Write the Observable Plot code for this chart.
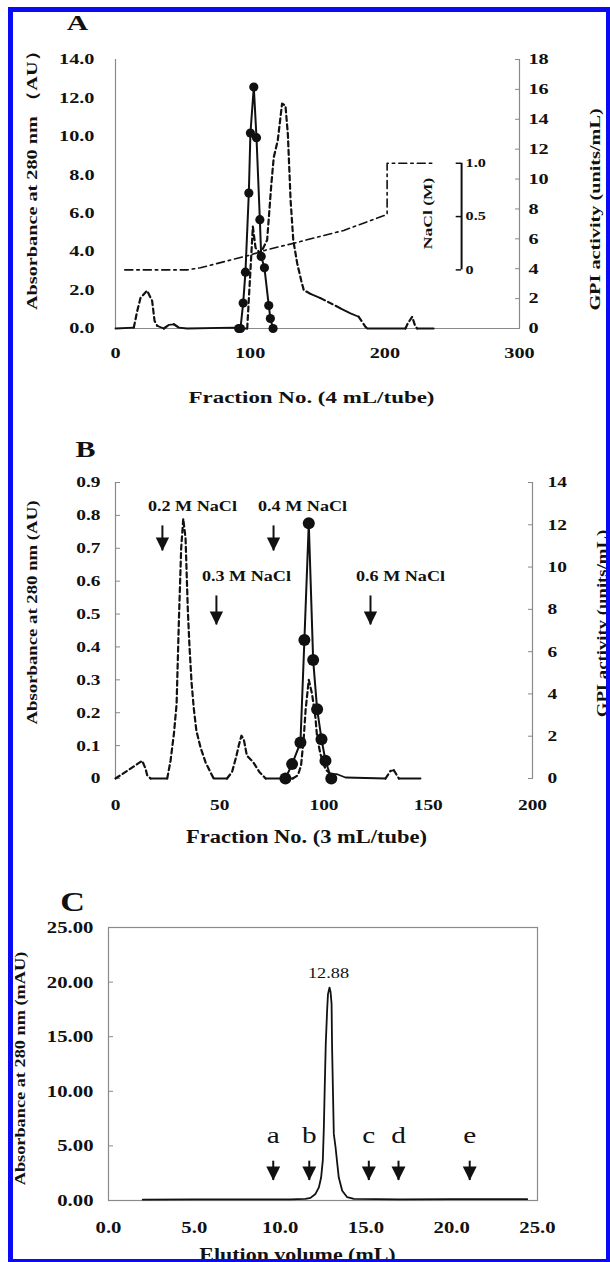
<!DOCTYPE html>
<html><head><meta charset="utf-8">
<script src="https://cdn.jsdelivr.net/npm/d3@7"></script>
<script src="https://cdn.jsdelivr.net/npm/@observablehq/plot@0.6"></script>
<style>
html,body{margin:0;padding:0;background:#fff;}
body{width:610px;height:1262px;position:relative;overflow:hidden;}
.panel{position:absolute;left:0;}
#border{position:absolute;left:8px;top:7px;width:593px;height:1247px;border-style:solid;border-color:#0a0af5;border-width:5px 4px 3px 5px;pointer-events:none;z-index:5;}
</style></head>
<body>
<div id="A" class="panel" style="top:0px"></div>
<div id="B" class="panel" style="top:420px"></div>
<div id="C" class="panel" style="top:850px"></div>
<div id="border"></div>
<script>
// ---------------- Panel A data ----------------
const fracA = [0, 13.6, 16.1, 18.6, 23.5, 27.2, 29, 31, 35.9, 39.6, 43.3, 47, 53.2, 87.8, 92, 97.8, 102, 104, 107.6, 112.6, 115.6, 117.5, 120.5, 123.7, 126.2, 128, 130, 132, 134.9, 137.9, 139.8, 144.8, 152.2, 159.6, 167, 174.5, 180.6, 185.6, 186.9, 215.3, 217, 220.3, 222.7, 224, 236.3];
const absA  = [0, 0.05, 0.9, 1.6, 1.97, 1.44, 0.4, 0.14, 0, 0.19, 0.22, 0.05, 0, 0.05, 0, 0, 5.3, 4.2, 3.9, 4.6, 7.4, 8.9, 9.8, 11.7, 11.6, 10.1, 6.7, 4.6, 3.4, 2.5, 2.0, 1.8, 1.58, 1.32, 1.05, 0.79, 0.61, 0.09, 0, 0, 0.26, 0.61, 0.1, 0, 0];
const gpiFracA = [91.5, 92.8, 94.8, 96.5, 99, 100.2, 102.7, 104.7, 107.2, 108.2, 110.6, 113.8, 115, 117];
const gpiA     = [0, 0, 1.70, 3.77, 9.06, 13.08, 16.16, 12.77, 7.28, 4.82, 4.06, 1.54, 0.67, 0];
const naclFracA = [6.9, 53.2, 63.1, 87.8, 100.2, 112.6, 132.4, 152.2, 169.5, 201.7, 201.7, 236.3];
const naclA     = [0, 0, 0.02, 0.10, 0.14, 0.19, 0.25, 0.315, 0.37, 0.52, 1.0, 1.0];
const naclTicks = [0, 0.5, 1.0];
const xTicksA = [0, 100, 200, 300];
const yTicksA = [0, 2, 4, 6, 8, 10, 12, 14];
const y2TicksA = [0, 2, 4, 6, 8, 10, 12, 14, 16, 18];

// ---------------- Panel B data ----------------
const fracB = [0, 2.4, 7.2, 12.8, 14.4, 15.2, 16.8, 24.8, 26.4, 28, 29.3, 30.4, 31.5, 32.5, 33.6, 34.7, 35.5, 36.5, 37.6, 38.8, 40.8, 43.2, 45.6, 47.1, 53.5, 55.9, 58, 59.1, 60.4, 61.5, 63, 66, 69, 72, 85, 87.5, 89, 90.3, 91.2, 92.7, 94.3, 95.9, 96.7, 98.3, 100.7, 103.1, 106.3, 110.3, 129.5, 131.9, 133.5, 135.9, 146.3];
const absB  = [0, 0.01, 0.03, 0.054, 0.03, 0.01, 0, 0, 0.054, 0.135, 0.226, 0.48, 0.70, 0.79, 0.73, 0.51, 0.40, 0.29, 0.21, 0.145, 0.094, 0.049, 0.018, 0, 0, 0.02, 0.069, 0.10, 0.13, 0.12, 0.07, 0.05, 0.02, 0, 0, 0.01, 0.04, 0.125, 0.21, 0.30, 0.256, 0.185, 0.125, 0.074, 0.028, 0.013, 0.013, 0.003, 0, 0.023, 0.025, 0, 0];
const gpiFracB = [81.5, 84.7, 88.7, 90.6, 92.7, 94.8, 96.7, 98.8, 100.7, 103.5];
const gpiB     = [0, 0.68, 1.70, 6.55, 12.07, 5.6, 3.28, 1.86, 0.84, 0];
const xTicksB = [0, 50, 100, 150, 200];
const yTicksB = [0, 0.1, 0.2, 0.3, 0.4, 0.5, 0.6, 0.7, 0.8, 0.9];
const y2TicksB = [0, 2, 4, 6, 8, 10, 12, 14];
const saltLabels = ["0.2 M NaCl", "0.3 M NaCl", "0.4 M NaCl", "0.6 M NaCl"];
const saltLabelX = [36.9, 62.8, 89.7, 136.7];
const saltLabelY = [0.829, 0.616, 0.829, 0.616];
const saltArrowX = [22.5, 48.4, 75.8, 122.3];
const saltArrowTop = [0.768, 0.555, 0.768, 0.555];
const saltArrowTip = [0.692, 0.467, 0.692, 0.467];

// ---------------- Panel C data ----------------
const volC = [2.0, 5, 8, 10.6, 11.48, 11.77, 12.06, 12.26, 12.39, 12.49, 12.55, 12.6, 12.66, 12.74, 12.79, 12.88, 12.94, 13.0, 13.03, 13.09, 13.13, 13.23, 13.33, 13.42, 13.62, 13.91, 14.3, 17, 20, 24.4];
const absC = [0.08, 0.1, 0.1, 0.1, 0.15, 0.24, 0.6, 1.2, 2.1, 3.7, 6.7, 10.3, 14.3, 17.4, 18.9, 19.5, 19.1, 18.0, 14.0, 9.2, 6.1, 4.9, 3.4, 2.1, 0.9, 0.3, 0.15, 0.1, 0.12, 0.12];
const ticksC = [0, 5, 10, 15, 20, 25];
const stdLabels = ["a", "b", "c", "d", "e"];
const stdX = [9.6, 11.7, 15.17, 16.9, 21.05];
const peakLabel = "12.88";
const peakLabelX = 12.82, peakLabelY = 20.8;

// ---------------- helpers ----------------
const FONT = '"Liberation Serif","Times New Roman",Times,serif';
const INK = "#111";
const AXIS = "#8a8a8a";

function splitRuns(xs, ys, xspan, yspan, W, H, thr = 0.5) {
  const steep = [], flat = [];
  let run = 0, prev = null;
  for (let i = 0; i < xs.length - 1; i++) {
    const dxp = Math.abs(xs[i + 1] - xs[i]) / xspan * W;
    const dyp = Math.abs(ys[i + 1] - ys[i]) / yspan * H;
    const s = dyp > thr * dxp;
    if (s !== prev) run++;
    prev = s;
    (s ? steep : flat).push({x: xs[i], y: ys[i], run}, {x: xs[i + 1], y: ys[i + 1], run});
  }
  return {steep, flat};
}
const headSymbol = {draw(ctx, size) { const s = Math.sqrt(size) * 0.75; ctx.moveTo(-s / 2, -s); ctx.lineTo(s / 2, -s); ctx.lineTo(0, 0); ctx.closePath(); }};
function arrowMarks(xs, tops, tips, r) {
  const d = xs.map((x, i) => ({x, top: tops[i], tip: tips[i]}));
  return [
    Plot.ruleX(d, {x: "x", y1: "top", y2: "tip", stroke: INK, strokeWidth: 2}),
    Plot.dot(d, {x: "x", y: "tip", symbol: headSymbol, r, fill: INK, stroke: "none"})
  ];
}
function note(str, o) { return Plot.text([str], {text: d => d, fill: INK, fontFamily: FONT, textAnchor: "middle", lineAnchor: "middle", ...o}); }
function stretch(svg, kDefault, kmap) {
  for (const t of svg.querySelectorAll("text")) {
    const g = t.closest("[aria-label]");
    const lab = g ? g.getAttribute("aria-label") : "";
    const k = (lab in kmap) ? kmap[lab] : kDefault;
    if (k !== 1) t.setAttribute("transform", (t.getAttribute("transform") || "") + ` scale(${k},1)`);
  }
}
const baseStyle = {fontFamily: FONT, fontWeight: "bold", color: INK, background: "transparent", overflow: "visible"};

// ---------------- Panel A ----------------
{
  const seg = splitRuns(fracA, absA, 300, 14, 404, 269);
  const gpiToAU = v => v * 14 / 18;
  const naclToAU = c => 3.05 + c * 5.55;
  const naclBarX = 257;
  const gpi = gpiFracA.map((x, i) => ({x, y: gpiToAU(gpiA[i])}));
  const nacl = naclFracA.map((x, i) => ({x, y: naclToAU(naclA[i])}));
  const svg = Plot.plot({
    width: 610, height: 420, marginLeft: 115, marginRight: 91, marginTop: 59, marginBottom: 92,
    style: baseStyle,
    x: {domain: [0, 300]}, y: {domain: [0, 14]},
    marks: [
      Plot.ruleX([0, 300], {stroke: AXIS, strokeWidth: 1.2}),
      Plot.ruleY([0], {stroke: AXIS, strokeWidth: 1.2}),
      Plot.axisX({ticks: xTicksA, tickSize: 0, tickPadding: 19, tickFormat: d => String(d), fontSize: 15, label: null}),
      Plot.axisY({ticks: yTicksA, tickSize: 0, tickPadding: 21, tickFormat: d => d.toFixed(1), fontSize: 15, label: null}),
      Plot.axisY({anchor: "right", ticks: y2TicksA.map(gpiToAU), tickSize: 5, dx: -5, tickPadding: 9, stroke: AXIS,
                  tickFormat: d => String(Math.round(d * 18 / 14)), fontSize: 15, label: null}),
      Plot.line(nacl, {x: "x", y: "y", stroke: INK, strokeWidth: 1.6, strokeDasharray: "8,4,2.5,4"}),
      Plot.line(seg.flat, {x: "x", y: "y", z: "run", stroke: INK, strokeWidth: 1.8}),
      Plot.line(seg.steep, {x: "x", y: "y", z: "run", stroke: INK, strokeWidth: 2.2, strokeDasharray: "5,3.5"}),
      Plot.line(gpi, {x: "x", y: "y", stroke: INK, strokeWidth: 2}),
      Plot.dot(gpi, {x: "x", y: "y", r: 4.6, fill: INK, stroke: "none"}),
      Plot.ruleX([naclBarX], {y1: naclToAU(0), y2: naclToAU(1), stroke: INK, strokeWidth: 2}),
      Plot.ruleY(naclTicks, {y: naclToAU, x1: naclBarX - 4, x2: naclBarX, stroke: INK, strokeWidth: 1.5}),
      Plot.text(naclTicks, {x: naclBarX, y: naclToAU, text: c => c === 0 ? "0" : c.toFixed(1), dx: 4, textAnchor: "start", fontSize: 12, fill: INK, ariaLabel: "nacl-tick"}),
      note("NaCl (M)", {x: 231.6, y: 5.99, rotate: -90, fontSize: 13, ariaLabel: "nacl-title"}),
      note("A", {frameAnchor: "top-left", dx: -38, dy: -36.5, fontSize: 22, ariaLabel: "panel-letter"}),
      note("Absorbance at 280 nm （AU）", {frameAnchor: "left", dx: -83, dy: -18.5, rotate: -90, fontSize: 15, ariaLabel: "ytitle"}),
      note("GPI activity (units/mL)", {frameAnchor: "right", dx: 76, dy: 15.5, rotate: -90, fontSize: 15, ariaLabel: "ytitle2"}),
      note("Fraction No. (4 mL/tube)", {frameAnchor: "bottom", dx: -6, dy: 69, fontSize: 17, ariaLabel: "xtitle"})
    ]
  });
  stretch(svg, 1.35, {"nacl-tick": 1.0, "nacl-title": 1.2, "panel-letter": 1.1, "ytitle": 1.18, "ytitle2": 1.16, "xtitle": 1.28});
  document.getElementById("A").appendChild(svg);
}

// ---------------- Panel B ----------------
{
  const seg = splitRuns(fracB, absB, 200, 0.9, 417, 296);
  const gpiToAU = v => v * 0.9 / 14;
  const gpi = gpiFracB.map((x, i) => ({x, y: gpiToAU(gpiB[i])}));
  const svg = Plot.plot({
    width: 610, height: 430, marginLeft: 115, marginRight: 78, marginTop: 62, marginBottom: 72,
    style: baseStyle,
    x: {domain: [0, 200]}, y: {domain: [0, 0.9]},
    marks: [
      Plot.ruleX([0, 200], {stroke: AXIS, strokeWidth: 1.2}),
      Plot.axisX({ticks: xTicksB, tickSize: 0, tickPadding: 20, tickFormat: d => String(d), fontSize: 15.5, label: null}),
      Plot.axisY({ticks: yTicksB, tickSize: 5, dx: 5, tickPadding: 15, stroke: AXIS, tickFormat: d => d === 0 ? "0" : d.toFixed(1), fontSize: 15.5, label: null}),
      Plot.axisY({anchor: "right", ticks: y2TicksB.map(gpiToAU), tickSize: 5, dx: -5, tickPadding: 15, stroke: AXIS,
                  tickFormat: d => String(Math.round(d * 14 / 0.9)), fontSize: 15.5, label: null}),
      Plot.line(seg.flat, {x: "x", y: "y", z: "run", stroke: INK, strokeWidth: 1.8}),
      Plot.line(seg.steep, {x: "x", y: "y", z: "run", stroke: INK, strokeWidth: 2.2, strokeDasharray: "5,3.5"}),
      Plot.line(gpi, {x: "x", y: "y", stroke: INK, strokeWidth: 2}),
      Plot.dot(gpi, {x: "x", y: "y", r: 6, fill: INK, stroke: "none"}),
      ...arrowMarks(saltArrowX, saltArrowTop, saltArrowTip, 10),
      Plot.text(saltLabels, {x: (d, i) => saltLabelX[i], y: (d, i) => saltLabelY[i], text: d => d, fontSize: 14.5, fill: INK, ariaLabel: "salt"}),
      note("B", {frameAnchor: "top-left", dx: -30, dy: -33.3, fontSize: 24, ariaLabel: "panel-letter"}),
      note("Absorbance at 280 nm (AU)", {frameAnchor: "left", dx: -83, dy: -18, rotate: -90, fontSize: 15, ariaLabel: "ytitle"}),
      note("GPI activity (units/mL)", {frameAnchor: "right", dx: 70, dy: -7, rotate: -90, fontSize: 15, ariaLabel: "ytitle2"}),
      note("Fraction No. (3 mL/tube)", {frameAnchor: "bottom", dx: -17.5, dy: 59, fontSize: 18, ariaLabel: "xtitle"})
    ]
  });
  stretch(svg, 1.25, {"salt": 1.17, "panel-letter": 1.05, "ytitle": 1.18, "ytitle2": 1.16, "xtitle": 1.28});
  document.getElementById("B").appendChild(svg);
}

// ---------------- Panel C ----------------
{
  const trace = volC.map((x, i) => ({x, y: absC[i]}));
  const arrowTop = stdX.map(() => 3.6), arrowTip = stdX.map(() => 1.83);
  const svg = Plot.plot({
    width: 610, height: 412, marginLeft: 108, marginRight: 73, marginTop: 77, marginBottom: 62,
    style: baseStyle,
    x: {domain: [0, 25]}, y: {domain: [0, 25]},
    marks: [
      Plot.frame({stroke: AXIS, strokeWidth: 1.2}),
      Plot.axisX({ticks: ticksC, tickSize: 0, tickPadding: 20, tickFormat: d => d.toFixed(1), fontSize: 17, label: null}),
      Plot.axisY({ticks: ticksC, tickSize: 5, dx: 5, tickPadding: 15, stroke: AXIS, tickFormat: d => d.toFixed(2), fontSize: 17, label: null}),
      Plot.line(trace, {x: "x", y: "y", stroke: INK, strokeWidth: 1.8}),
      ...arrowMarks(stdX, arrowTop, arrowTip, 10.5),
      Plot.text(stdLabels, {x: (d, i) => stdX[i], y: 5.3, text: d => d, lineAnchor: "bottom", fontSize: 24, fontWeight: "normal", fill: INK, ariaLabel: "std"}),
      note(peakLabel, {x: peakLabelX, y: peakLabelY, fontSize: 15, fontWeight: "normal", ariaLabel: "peak"}),
      note("C", {frameAnchor: "top-left", dx: -36, dy: -25.3, fontSize: 28, ariaLabel: "panel-letter"}),
      note("Absorbance at 280 nm (mAU)", {frameAnchor: "left", dx: -88, dy: 4.5, rotate: -90, fontSize: 15, ariaLabel: "ytitle"}),
      note("Elution volume (mL)", {frameAnchor: "bottom", dx: -25.5, dy: 55, fontSize: 18, ariaLabel: "xtitle"})
    ]
  });
  stretch(svg, 1.22, {"std": 1.0, "peak": 1.14, "panel-letter": 1.0, "ytitle": 1.18, "xtitle": 1.18});
  document.getElementById("C").appendChild(svg);
}
</script>
</body></html>
